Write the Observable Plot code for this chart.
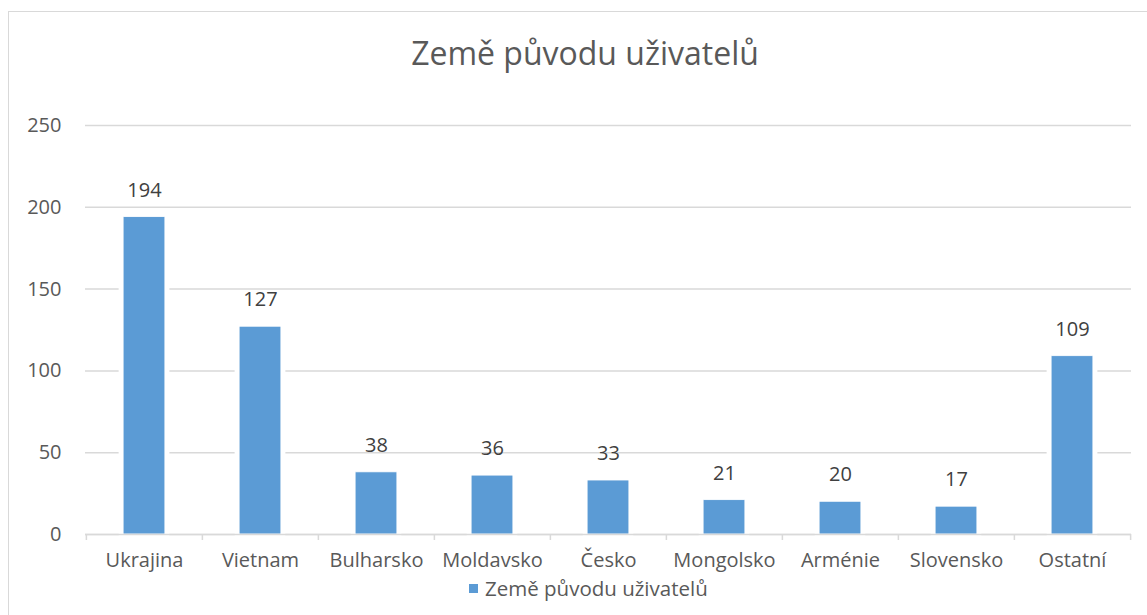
<!DOCTYPE html>
<html>
<head>
<meta charset="utf-8">
<script src="https://cdn.jsdelivr.net/npm/d3@7"></script>
<script src="https://cdn.jsdelivr.net/npm/@observablehq/plot@0.6"></script>
<style>
  html, body { margin: 0; padding: 0; background: #fff; }
  #wrap { position: relative; width: 1147px; height: 615px; overflow: hidden; font-family: "Open Sans", sans-serif; }
  #frame { position: absolute; left: 8px; top: 11px; width: 1160px; height: 640px; border: 1px solid #d9d9d9; box-sizing: border-box; }
  #title { position: absolute; left: 0; width: 1170px; top: 28px; text-align: center; font-size: 32px; color: #595959; line-height: 50px; }
  #chart { position: absolute; left: 0; top: 0; }
  #legend { position: absolute; left: 469px; top: 578px; font-size: 20.5px; color: #595959; line-height: 20px; display: flex; align-items: center; }
  #legend .sw { width: 9px; height: 9px; background: #5B9BD5; margin-right: 7px; }
</style>
</head>
<body>
<div id="wrap">
  <div id="frame"></div>
  <div id="chart"></div>
  <div id="title">Země původu uživatelů</div>
  <div id="legend"><span class="sw"></span><span>Země původu uživatelů</span></div>
</div>
<script>
const categories = ["Ukrajina", "Vietnam", "Bulharsko", "Moldavsko", "Česko", "Mongolsko", "Arménie", "Slovensko", "Ostatní"];
const values = [194, 127, 38, 36, 33, 21, 20, 17, 109];
const yTicks = [0, 50, 100, 150, 200, 250];
const seriesName = "Země původu uživatelů";

const data = categories.map((c, i) => ({country: c, value: values[i]}));

const W = 1147, H = 615;
const mL = 85, mR = 16, mT = 125, mB = 81;
const step = (W - mL - mR) / categories.length;
const barW = 42;
const inset = (step - barW) / 2;
const barColor = "#5B9BD5";
const gridColor = "#d9d9d9";

const chart = Plot.plot({
  width: W,
  height: H,
  marginLeft: mL,
  marginRight: mR,
  marginTop: mT,
  marginBottom: mB,
  style: {fontFamily: "'Open Sans', sans-serif", fontSize: "20px", background: "transparent", overflow: "visible"},
  x: {type: "band", domain: categories, padding: 0},
  y: {domain: [0, 250], ticks: yTicks},
  marks: [
    Plot.gridY(yTicks, {stroke: gridColor, strokeOpacity: 1, strokeWidth: 1.5}),
    Plot.barY(data, {x: "country", y: "value", insetLeft: inset, insetRight: inset, fill: "white", stroke: "white", strokeWidth: 9}),
    Plot.barY(data, {x: "country", y: "value", insetLeft: inset, insetRight: inset, fill: barColor, stroke: "#ffffff", strokeWidth: 0.8}),
    Plot.ruleY([0], {stroke: gridColor, strokeWidth: 1.5}),
    Plot.axisX(categories, {tickSize: 6, dx: -step / 2, tickFormat: () => "", stroke: gridColor, strokeWidth: 1.5, strokeOpacity: 1, label: null}),
    Plot.axisX([categories[categories.length - 1]], {tickSize: 6, dx: step / 2, tickFormat: () => "", stroke: gridColor, strokeWidth: 1.5, strokeOpacity: 1, label: null}),
    Plot.axisX({tickSize: 0, tickPadding: 18, fontSize: 20, fill: "#595959", label: null}),
    Plot.axisY(yTicks, {tickSize: 0, tickPadding: 24, fontSize: 20, fill: "#595959", label: null}),
    Plot.text(data, {x: "country", y: "value", text: d => String(d.value), dy: -27, fontSize: 20, fill: "#404040"})
  ]
});
document.getElementById("chart").appendChild(chart);
</script>
</body>
</html>
